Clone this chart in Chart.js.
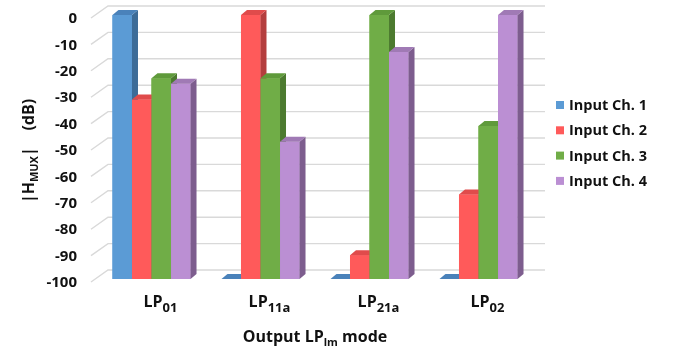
<!DOCTYPE html>
<html>
<head>
<meta charset="utf-8">
<script src="https://cdn.jsdelivr.net/npm/chart.js@4/dist/chart.umd.min.js"></script>
<style>
  html, body { margin: 0; padding: 0; background: #ffffff; }
  #wrap { width: 678px; height: 349px; }
</style>
</head>
<body>
<div id="wrap"><canvas id="c" width="678" height="349"></canvas></div>
<script>
// Output modes (main text + subscript)
const modeMain = ['LP', 'LP', 'LP', 'LP'];
const modeSub = ['01', '11a', '21a', '02'];
const categories = modeMain.map((m, i) => m + modeSub[i]);

// |H_MUX| in dB for each input channel
const inputCh1 = [0, -100, -100, -100];
const inputCh2 = [-32, 0, -91, -68];
const inputCh3 = [-24, -24, 0, -42];
const inputCh4 = [-26, -48, -14, 0];

const seriesNames = ['Input Ch. 1', 'Input Ch. 2', 'Input Ch. 3', 'Input Ch. 4'];

// y axis range and step
const yMin = -100;
const yMax = 0;
const yStep = 10;

const FONT = '"Open Sans", "Liberation Sans", sans-serif';
const TEXT = '#111111';

// face colours: front, side, top
const faces = [
  { front: '#5B9BD5', side: '#3D6C98', top: '#4A82BA' },
  { front: '#FF5A5A', side: '#B43E3E', top: '#E04B4B' },
  { front: '#70AD47', side: '#4C7A2F', top: '#5F9A3B' },
  { front: '#BB8FD3', side: '#7D5D8E', top: '#A07AB5' }
];
const DX = 6, DY = -5;

const values = [inputCh1, inputCh2, inputCh3, inputCh4];

// back wall + left wall gridlines
const wallGrid = {
  id: 'wallGrid',
  beforeDatasetsDraw(chart) {
    const ctx = chart.ctx;
    const ys = chart.scales.y;
    const { left, right } = chart.chartArea;
    ctx.save();
    ctx.strokeStyle = '#d9d9d9';
    ctx.lineWidth = 1.4;
    for (let v = yMin; v <= yMax; v += yStep) {
      const p = ys.getPixelForValue(v);
      ctx.beginPath();
      ctx.moveTo(left - 6, p + 3);
      ctx.lineTo(left + 11, p - 9);
      ctx.lineTo(right + 12, p - 9);
      ctx.stroke();
    }
    ctx.restore();
  }
};

// extruded bar faces, drawn left to right so nearer faces cover the sides
const bars3d = {
  id: 'bars3d',
  afterDatasetsDraw(chart) {
    const ctx = chart.ctx;
    ctx.save();
    const n = chart.data.labels.length;
    for (let i = 0; i < n; i++) {
      chart.data.datasets.forEach((ds, k) => {
        const el = chart.getDatasetMeta(k).data[i];
        const { x, y, base, width } = el.getProps(['x', 'y', 'base', 'width'], true);
        const xl = x - width / 2, xr = x + width / 2;
        const top = Math.min(y, base), bottom = Math.max(y, base);
        const f = faces[k];
        // front
        ctx.fillStyle = f.front;
        ctx.fillRect(xl, top, width, bottom - top);
        // side
        if (bottom - top > 0) {
          ctx.fillStyle = f.side;
          ctx.beginPath();
          ctx.moveTo(xr, top);
          ctx.lineTo(xr + DX, top + DY);
          ctx.lineTo(xr + DX, bottom + DY);
          ctx.lineTo(xr, bottom);
          ctx.closePath();
          ctx.fill();
        }
        // top
        ctx.fillStyle = f.top;
        ctx.beginPath();
        ctx.moveTo(xl, top);
        ctx.lineTo(xl + DX, top + DY);
        ctx.lineTo(xr + DX, top + DY);
        ctx.lineTo(xr, top);
        ctx.closePath();
        ctx.fill();
      });
    }
    ctx.restore();
  }
};

function drawSubText(ctx, parts, x, y, align) {
  // parts: [{t, size, dy}]
  let total = 0;
  parts.forEach(p => { ctx.font = 'bold ' + p.size + 'px ' + FONT; p.w = ctx.measureText(p.t).width; total += p.w; });
  let cx = align === 'center' ? x - total / 2 : x;
  parts.forEach(p => {
    ctx.font = 'bold ' + p.size + 'px ' + FONT;
    ctx.fillText(p.t, cx, y + (p.dy || 0));
    cx += p.w;
  });
}

// category labels, axis titles and legend
const labelsAndLegend = {
  id: 'labelsAndLegend',
  afterDraw(chart) {
    const ctx = chart.ctx;
    const xs = chart.scales.x;
    const { left, right } = chart.chartArea;
    ctx.save();
    ctx.fillStyle = TEXT;
    ctx.textAlign = 'left';
    ctx.textBaseline = 'alphabetic';

    // category labels
    modeMain.forEach((m, i) => {
      const cx = xs.getPixelForValue(i) + 9;
      drawSubText(ctx, [{ t: m, size: 16 }, { t: modeSub[i], size: 13, dy: 5 }], cx, 307, 'center');
    });

    // x title
    drawSubText(ctx, [
      { t: 'Output LP', size: 16 },
      { t: 'lm', size: 11, dy: 4 },
      { t: ' mode', size: 16 }
    ], (left + right) / 2, 342, 'center');

    // y title, rotated
    ctx.save();
    ctx.translate(34, 151);
    ctx.rotate(-Math.PI / 2);
    drawSubText(ctx, [
      { t: '|H', size: 16 },
      { t: 'MUX', size: 11, dy: 4 },
      { t: '|', size: 16 },
      { t: '\u00a0\u00a0\u00a0\u00a0(dB)', size: 16 }
    ], 0, 0, 'center');
    ctx.restore();

    // legend
    const lx = 556, ly0 = 105, lstep = 25.3;
    ctx.textBaseline = 'middle';
    ctx.font = 'bold 14.5px ' + FONT;
    chart.data.datasets.forEach((ds, k) => {
      const cy = ly0 + k * lstep;
      ctx.fillStyle = ds.backgroundColor;
      ctx.fillRect(lx, cy - 4, 8, 8);
      ctx.fillStyle = TEXT;
      ctx.fillText(ds.label, lx + 13, cy + 1);
    });
    ctx.restore();
  }
};

const datasets = values.map((vals, k) => ({
  label: seriesNames[k],
  data: vals,
  base: yMin,
  backgroundColor: faces[k].front,
  borderWidth: 0,
  barPercentage: 1.0,
  categoryPercentage: 0.716
}));

new Chart(document.getElementById('c'), {
  type: 'bar',
  data: { labels: categories, datasets },
  options: {
    responsive: false,
    animation: false,
    events: [],
    layout: { padding: { top: 15, right: 145, left: 0, bottom: 0 } },
    plugins: {
      legend: { display: false },
      tooltip: { enabled: false }
    },
    scales: {
      x: {
        grid: { display: false },
        border: { display: false },
        ticks: { display: false },
        afterFit(scale) { scale.height = 70; }
      },
      y: {
        min: yMin,
        max: yMax,
        grid: { display: false, drawTicks: false },
        border: { display: false },
        ticks: {
          stepSize: yStep,
          padding: 20,
          labelOffset: 4,
          color: TEXT,
          font: { family: FONT, size: 15, weight: 'bold' }
        },
        afterFit(scale) {
          scale.width = 97;
          scale.paddingTop = 0;
          scale.paddingBottom = 0;
        }
      }
    }
  },
  plugins: [wallGrid, bars3d, labelsAndLegend]
});
</script>
</body>
</html>
